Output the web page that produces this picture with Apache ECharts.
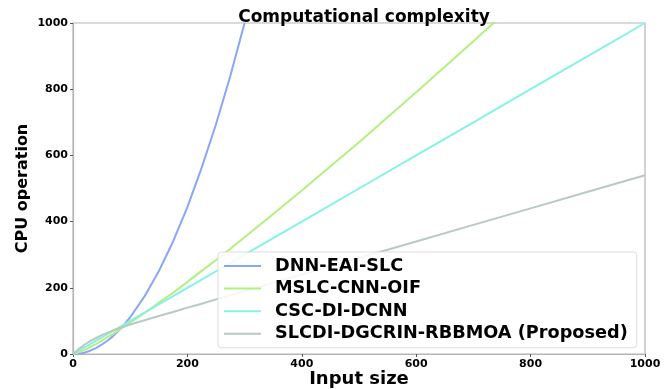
<!DOCTYPE html>
<html>
<head>
<meta charset="utf-8">
<script src="https://cdn.jsdelivr.net/npm/echarts@6/dist/echarts.min.js"></script>
<style>html,body{margin:0;padding:0;background:#fff}#c{width:670px;height:389px}</style>
</head>
<body>
<div id="c"></div>
<script>
const inputSize = [0, 10, 20, 30, 40, 50, 60, 70, 80, 90, 100, 125, 150, 175, 200, 225, 250, 275, 300, 350, 400, 500, 600, 700, 800, 900, 1000];
const dnnEaiSlc = [0, 1, 4, 10, 18, 28, 40, 54, 71, 90, 111, 174, 250, 340, 444, 563, 694, 840, 1000, null, null, null, null, null, null, null, null];
const mslcCnnOif = [0, 5, 12, 21, 30, 40, 51, 61, 72, 84, 95, 124, 155, 185, 218, 251, 284, 318, 353, 423, 494, 640, 791, 945, 1102, null, null];
const cscDiDcnn = [0, 10, 20, 30, 40, 50, 60, 70, 80, 90, 100, 125, 150, 175, 200, 225, 250, 275, 300, 350, 400, 500, 600, 700, 800, 900, 1000];
const slcdiProposed = [0, 15, 28, 39, 48, 57, 64, 71, 77, 83, 89, 102, 115, 127, 140, 152, 165, 177, 190, 215, 240, 290, 340, 390, 440, 490, 540];
const seriesNames = ['DNN-EAI-SLC', 'MSLC-CNN-OIF', 'CSC-DI-DCNN', 'SLCDI-DGCRIN-RBBMOA (Proposed)'];
const seriesValues = [dnnEaiSlc, mslcCnnOif, cscDiDcnn, slcdiProposed];
const xTicks = [0, 200, 400, 600, 800, 1000];
const yTicks = [0, 200, 400, 600, 800, 1000];
const colors = ['#8aa6f7', '#b4ef7f', '#86f2e6', '#b8c9c6'];

const chart = echarts.init(document.getElementById('c'), null, {renderer: 'canvas'});
const font = 'DejaVu Sans';
chart.setOption({
  animation: false,
  backgroundColor: '#fff',
  title: {
    text: 'Computational complexity',
    left: 359, top: 4, textAlign: 'center',
    textStyle: {fontFamily: font, fontWeight: 'bold', fontSize: 17, color: '#000'}
  },
  grid: {left: 73, right: 25, top: 23, bottom: 35, show: true, borderColor: '#b5b5b5', borderWidth: 1.2, outerBoundsMode: 'none', containLabel: false},
  xAxis: {
    type: 'value', min: xTicks[0], max: xTicks[xTicks.length - 1], interval: 200,
    name: 'Input size', nameLocation: 'middle', nameGap: 16, nameMoveOverlap: false,
    nameTextStyle: {fontFamily: font, fontWeight: 'bold', fontSize: 18, color: '#000'},
    axisLine: {show: true, lineStyle: {color: '#b5b5b5', width: 1.2}},
    axisTick: {show: true, length: 3, lineStyle: {color: '#555'}},
    axisLabel: {fontFamily: font, fontWeight: 'bold', fontSize: 11, color: '#000', margin: 5, formatter: v => String(v)},
    splitLine: {show: false}
  },
  yAxis: {
    type: 'value', min: yTicks[0], max: yTicks[yTicks.length - 1], interval: 200,
    name: 'CPU operation', nameLocation: 'middle', nameGap: 42, nameMoveOverlap: false,
    nameTextStyle: {fontFamily: font, fontWeight: 'bold', fontSize: 16, color: '#000'},
    axisLine: {show: true, lineStyle: {color: '#b5b5b5', width: 1.2}},
    axisTick: {show: true, length: 3, lineStyle: {color: '#555'}},
    axisLabel: {fontFamily: font, fontWeight: 'bold', fontSize: 11, color: '#000', margin: 5, formatter: v => String(v)},
    splitLine: {show: false}
  },
  legend: {
    orient: 'vertical', left: 218, top: 252,
    padding: [5, 9, 5, 6], itemGap: 4.6,
    itemWidth: 37, itemHeight: 2, icon: 'rect',
    backgroundColor: 'rgba(255,255,255,0.85)', borderColor: '#dddddd', borderWidth: 1, borderRadius: 3,
    textStyle: {fontFamily: font, fontWeight: 'bold', fontSize: 17.7, color: '#000', lineHeight: 18, padding: [0, 0, 0, 9]},
    data: seriesNames
  },
  series: seriesNames.map((n, i) => ({
    name: n, type: 'line', smooth: false, symbol: 'none', clip: true,
    color: colors[i],
    lineStyle: {width: 2, color: colors[i]},
    data: inputSize.map((x, j) => [x, seriesValues[i][j]]).filter(p => p[1] !== null)
  }))
});
</script>
</body>
</html>
